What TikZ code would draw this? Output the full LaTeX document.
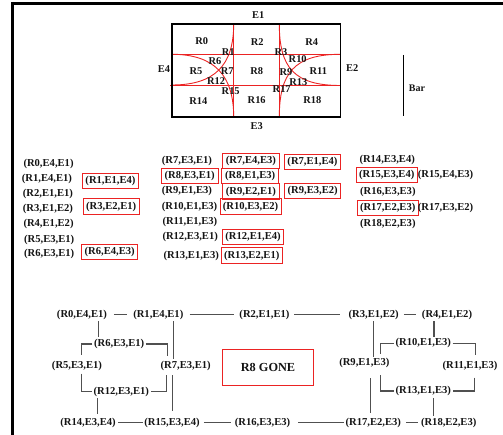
\documentclass[tikz,border=0pt]{standalone}
\usepackage{fontspec}
\setmainfont{Liberation Serif}
\definecolor{myred}{RGB}{235,35,35}
\definecolor{lnk}{RGB}{80,80,80}
\begin{document}
\begin{tikzpicture}[x=1pt,y=-1pt,
  every node/.style={font=\fontsize{10.6}{12}\selectfont\bfseries, text=black!92},
  rl/.style={inner sep=0pt, font=\fontsize{10.4}{12}\selectfont\bfseries},
  lbl/.style={inner sep=0pt, anchor=west},
  rbox/.style={draw=myred, line width=0.9pt, inner xsep=2.8pt, inner ysep=1pt, minimum height=15.3pt},
  cbox/.style={rbox, minimum width=57pt},
  gn/.style={inner sep=1.5pt},
  lk/.style={draw=lnk, line width=1.1pt},
  redln/.style={draw=myred, line width=0.9pt}
]
\useasboundingbox (0,0) rectangle (503,435);
% frame lines
\draw[line width=3pt] (11,3.5) -- (503,3.5);
\draw[line width=3pt] (12.5,2) -- (12.5,435);

% ---------- top plan ----------
\draw[redln] (172,54.3) -- (340.5,54.3);
\draw[redln] (170,85.5) -- (340.5,85.5);
\draw[redln] (233.7,24) -- (233.7,117);
\draw[redln] (279.3,24) -- (279.3,117);
\draw[redln] (233.7,24) .. controls (233.7,66) and (214,85) .. (172,85);
\draw[redln] (172,54.3) .. controls (214,54.3) and (233.7,75) .. (233.7,117);
\draw[redln] (279.3,24) .. controls (279.3,68) and (294.5,85.5) .. (340.5,85.5);
\draw[redln] (340.5,54.3) .. controls (294.5,54.3) and (279.3,73) .. (279.3,117);
\draw[line width=1.8pt] (172,24) rectangle (340.5,117);

\node[rl] (tE1) at (258.3,15) {E1};
\node[rl] (tE2) at (352.3,67.7) {E2};
\node[rl] (tE3) at (256.7,126) {E3};
\node[rl] (tE4) at (164,69.3) {E4};
\node[rl] (tR0) at (201.7,40.7) {R0};
\node[rl] (tR2) at (257.3,41.7) {R2};
\node[rl] (tR4) at (311.7,41.7) {R4};
\node[rl] (tR1) at (228.3,51.7) {R1};
\node[rl] (tR3) at (281,51.7) {R3};
\node[rl] (tR6) at (215,60.7) {R6};
\node[rl] (tR10) at (297.7,59.3) {R10};
\node[rl] (tR5) at (196,70.7) {R5};
\node[rl] (tR7) at (227.3,70.7) {R7};
\node[rl] (tR8) at (256.7,70.7) {R8};
\node[rl] (tR9) at (286,72) {R9};
\node[rl] (tR11) at (318.3,70.7) {R11};
\node[rl] (tR12) at (216,81) {R12};
\node[rl] (tR13) at (298.3,81.7) {R13};
\node[rl] (tR15) at (230.7,90.7) {R15};
\node[rl] (tR17) at (281.7,89.3) {R17};
\node[rl] (tR14) at (198.3,101) {R14};
\node[rl] (tR16) at (256.7,100.3) {R16};
\node[rl] (tR18) at (312.3,100.3) {R18};

\draw[line width=1pt] (403.3,55) -- (403.3,116);
\node[inner sep=0pt, font=\fontsize{10}{12}\selectfont\bfseries] (bar) at (417,88.3) {Bar};

% ---------- middle lists ----------
\node[lbl] (a0) at (23.3,164.3) {(R0,E4,E1)};
\node[lbl] (a1) at (21.7,179.3) {(R1,E4,E1)};
\node[lbl] (a2) at (22.7,194.3) {(R2,E1,E1)};
\node[lbl] (a3) at (22.7,209) {(R3,E1,E2)};
\node[lbl] (a4) at (23.3,224) {(R4,E1,E2)};
\node[lbl] (a5) at (24,240) {(R5,E3,E1)};
\node[lbl] (a6) at (24,254.3) {(R6,E3,E1)};

\node[rbox] (b1) at (110.5,181.2) {(R1,E1,E4)};
\node[rbox] (b3) at (111.2,206.5) {(R3,E2,E1)};
\node[rbox] (b6) at (109.7,251.8) {(R6,E4,E3)};

\node[lbl] (c7) at (161.7,160.7) {(R7,E3,E1)};
\node[rbox, minimum width=57.3pt] (c8) at (189.7,176.2) {(R8,E3,E1)};
\node[lbl] (c9) at (161.7,191.3) {(R9,E1,E3)};
\node[lbl] (c10) at (161.7,206.7) {(R10,E1,E3)};
\node[lbl] (c11) at (162.3,222) {(R11,E1,E3)};
\node[lbl] (c12) at (162.3,237.3) {(R12,E3,E1)};
\node[lbl] (c13) at (163.3,256.3) {(R13,E1,E3)};

\node[cbox] (d7) at (250.9,160.9) {(R7,E4,E3)};
\node[cbox] (d8) at (250.2,176.2) {(R8,E1,E3)};
\node[cbox] (d9) at (250.9,191.5) {(R9,E2,E1)};
\node[cbox] (d10) at (250.5,206.5) {(R10,E3,E2)};
\node[cbox] (d12) at (253,236.9) {(R12,E1,E4)};
\node[cbox] (d13) at (251.7,255.5) {(R13,E2,E1)};

\node[rbox] (e7) at (312.5,161.7) {(R7,E1,E4)};
\node[rbox] (e9) at (312.7,190.9) {(R9,E3,E2)};

\node[lbl] (f14) at (359.3,160) {(R14,E3,E4)};
\node[rbox] (f15) at (386.7,175.2) {(R15,E3,E4)};
\node[lbl] (f15b) at (417.7,175.3) {(R15,E4,E3)};
\node[lbl] (f16) at (360,192.3) {(R16,E3,E3)};
\node[rbox] (f17) at (387.7,207.8) {(R17,E2,E3)};
\node[lbl] (f17b) at (417.7,208) {(R17,E3,E2)};
\node[lbl] (f18) at (360,224.3) {(R18,E2,E3)};

% ---------- bottom graph ----------
\node[gn] (g0) at (82,314.5) {(R0,E4,E1)};
\node[gn] (g1) at (158.3,314.5) {(R1,E4,E1)};
\node[gn] (g2) at (264.5,314.5) {(R2,E1,E1)};
\node[gn] (g3) at (373.7,314.5) {(R3,E1,E2)};
\node[gn] (g4) at (447,314.5) {(R4,E1,E2)};
\node[gn] (g6) at (119.2,344) {(R6,E3,E1)};
\node[gn] (g5) at (77,365.7) {(R5,E3,E1)};
\node[gn] (g7) at (185.7,365.7) {(R7,E3,E1)};
\node[gn] (g12) at (121.3,391.5) {(R12,E3,E1)};
\node[gn] (g10) at (423.3,343.3) {(R10,E1,E3)};
\node[gn] (g9) at (364.3,363.3) {(R9,E1,E3)};
\node[gn] (g11) at (470,365.7) {(R11,E1,E3)};
\node[gn] (g13) at (423.3,391) {(R13,E1,E3)};
\node[gn] (g14) at (88,422.5) {(R14,E3,E4)};
\node[gn] (g15) at (172,422.5) {(R15,E3,E4)};
\node[gn] (g16) at (262.5,422.5) {(R16,E3,E3)};
\node[gn] (g17) at (373.3,422.5) {(R17,E2,E3)};
\node[gn] (g18) at (448.7,422.5) {(R18,E2,E3)};

\node[draw=myred, line width=0.9pt, minimum width=90.6pt, minimum height=36.7pt,
      font=\fontsize{12.3}{14}\selectfont\bfseries] (gone) at (268,367.3) {R8 GONE};

% horizontal links
\draw[lk, shorten <=5.2pt, shorten >=4.5pt] (g0.east) -- (g1.west);
\draw[lk, shorten <=4.5pt, shorten >=3.5pt] (g1.east) -- (g2.west);
\draw[lk, shorten <=2.8pt, shorten >=6.8pt] (g2.east) -- (g3.west);
\draw[lk, shorten <=3.5pt, shorten >=4.2pt] (g3.east) -- (g4.west);
\draw[lk, shorten <=0.8pt] (g14.east) -- (g15.west);
\draw[lk, shorten <=2.5pt, shorten >=1.8pt] (g15.east) -- (g16.west);
\draw[lk, shorten <=6.2pt, shorten >=0.2pt] (g16.east) -- (g17.west);
\draw[lk, shorten <=3.5pt, shorten >=0.9pt] (g17.east) -- (g18.west);

% vertical links
\coordinate (v06) at ([xshift=16.3pt]g0.south);
\draw[lk] (v06) -- (v06 |- g6.north);
\coordinate (v17) at ([xshift=15pt]g1.south);
\draw[lk] (v17) -- (v17 |- g7.north);
\coordinate (v715) at ([xshift=0.7pt]g15.north);
\draw[lk, shorten <=5pt, shorten >=3pt] (v715) -- (v715 |- g7.south);
\coordinate (v1214) at ([xshift=9.7pt]g14.north);
\draw[lk, shorten <=2pt] (v1214) -- (v1214 |- g12.south);
\coordinate (v39) at ([xshift=-0.4pt]g3.south);
\draw[lk] (v39) -- (v39 |- g9.north);
\coordinate (v917) at ([xshift=-2.6pt]g17.north);
\draw[lk, shorten <=3pt, shorten >=8.6pt] (v917) -- (v917 |- g9.south);
\coordinate (v410) at ([xshift=-13pt]g4.south);
\draw[lk] (v410) -- (v410 |- g10.north);
\coordinate (v1318) at ([xshift=-15.4pt]g18.north);
\draw[lk] (v1318) -- (v1318 |- g13.south);

% brackets
\draw[lk, shorten >=4pt] (g6.west) -| ([xshift=4.7pt]g5.north);
\draw[lk, shorten <=1.3pt] ([xshift=4.7pt]g5.south) |- (g12.west);
\draw[lk, shorten >=2.7pt] (g6.east) -| ([xshift=-18pt]g7.north);
\draw[lk, shorten <=3pt] ([xshift=-19pt]g7.south) |- (g12.east);
\draw[lk, shorten >=3pt] (g10.west) -| ([xshift=16.4pt]g9.north);
\draw[lk, shorten >=4.4pt] (g10.east) -| ([xshift=5.7pt]g11.north);
\draw[lk, shorten <=5.3pt] ([xshift=16.4pt]g9.south) |- (g13.west);
\draw[lk, shorten <=5.3pt] ([xshift=4.3pt]g11.south) |- (g13.east);
\end{tikzpicture}
\end{document}
